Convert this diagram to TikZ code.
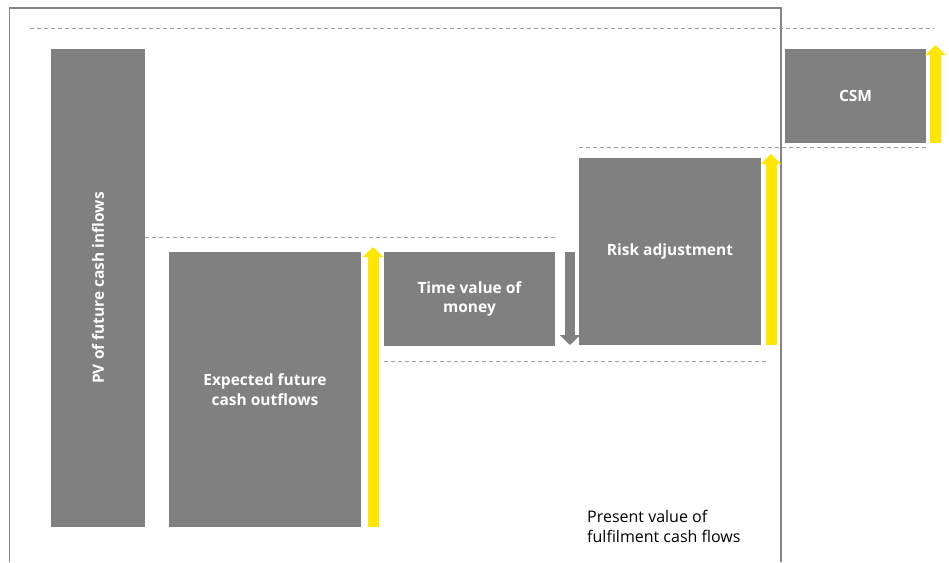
\documentclass[tikz,border=0pt]{standalone}
\usepackage{fontspec}
\setmainfont{Open Sans}
\usetikzlibrary{arrows.meta}
\definecolor{blkgrey}{HTML}{808080}
\definecolor{upyellow}{HTML}{FFE600}
\tikzset{
  blk/.style={fill=blkgrey,inner sep=0pt,text=white,align=center,
    font=\fontsize{15.5}{19.5}\selectfont\bfseries},
  yarr/.style={-{Triangle[length=10pt,width=20pt]},line width=11pt,upyellow},
  garr/.style={-{Triangle[length=10pt,width=20pt]},line width=10pt,blkgrey},
  lvl/.style={dash pattern=on 4pt off 3pt,line width=0.9pt,black!38},
  frm/.style={line width=1.2pt,black!48},
  lblnode/.style={align=left,inner sep=0pt,font=\fontsize{16}{20}\selectfont},
}
\begin{document}
\begin{tikzpicture}[x=1pt,y=-1pt]
  \useasboundingbox (0,0) rectangle (949,562);
  % frame round the fulfilment cash flows
  \draw[frm] (9.5,562) -- (9.5,8) -- (781,8) -- (781,562);
  % level lines
  \coordinate (l0a) at (30,28);   \coordinate (l0b) at (934,28);
  \coordinate (l1a) at (145,237); \coordinate (l1b) at (555,237);
  \coordinate (l2a) at (579,147); \coordinate (l2b) at (928,147);
  \coordinate (l3a) at (384,361); \coordinate (l3b) at (768,361);
  \draw[lvl] (l0a) -- (l0b);
  \draw[lvl] (l1a) -- (l1b);
  \draw[lvl] (l2a) -- (l2b);
  \draw[lvl] (l3a) -- (l3b);
  % blocks
  \node[blk,rotate=90,minimum width=478pt,minimum height=94pt] (inflow) at (98,288)
    {PV of future cash inflows};
  \node[blk,minimum width=192pt,minimum height=275pt] (outflow) at (265,389.5)
    {Expected future\\cash outflows};
  \node[blk,minimum width=171pt,minimum height=94pt] (tvm) at (469.5,299)
    {Time value of\\money};
  \node[blk,minimum width=182pt,minimum height=187pt] (risk) at (670,251.5)
    {Risk adjustment};
  \node[blk,minimum width=141pt,minimum height=94pt] (csm) at (855.5,96)
    {CSM};
  % movement arrows
  \coordinate (up1a) at (373,527);   \coordinate (up1b) at (373,247);
  \coordinate (up2a) at (771,345);   \coordinate (up2b) at (771,154);
  \coordinate (up3a) at (935.5,143); \coordinate (up3b) at (935.5,45);
  \coordinate (dn1a) at (570,252);   \coordinate (dn1b) at (570,345);
  \draw[yarr] (up1a) -- (up1b);
  \draw[yarr] (up2a) -- (up2b);
  \draw[yarr] (up3a) -- (up3b);
  \draw[garr] (dn1a) -- (dn1b);
  \node[lblnode,anchor=base west] (pvfcf) at (587,542)
    {Present value of\\fulfilment cash flows};
\end{tikzpicture}
\end{document}
